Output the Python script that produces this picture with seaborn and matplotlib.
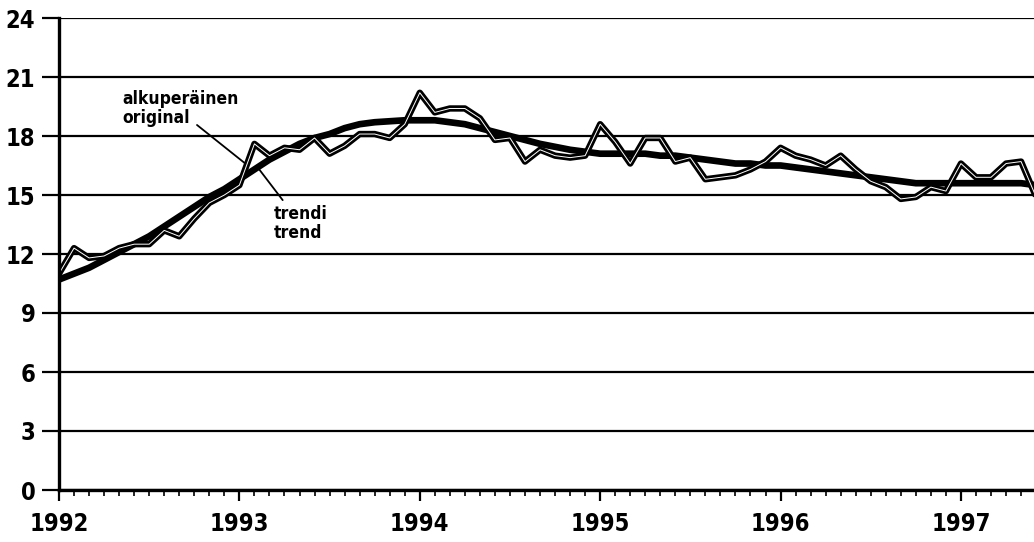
import numpy as np
import pandas as pd
import matplotlib as mpl
import matplotlib.pyplot as plt
import matplotlib.ticker as tck
import seaborn as sns

# kuukausiarvot 1992/01 - 1997/06
alkuperainen = [
    11.0, 12.3, 11.8, 11.9, 12.3, 12.5, 12.5, 13.2, 12.9, 13.8, 14.6, 15.0,  # 1992
    15.5, 17.6, 17.0, 17.4, 17.3, 17.9, 17.1, 17.5, 18.1, 18.1, 17.9, 18.6,  # 1993
    20.2, 19.2, 19.4, 19.4, 18.9, 17.8, 17.9, 16.7, 17.3, 17.0, 16.9, 17.0,  # 1994
    18.6, 17.7, 16.6, 17.9, 17.9, 16.7, 16.9, 15.8, 15.9, 16.0, 16.3, 16.7,  # 1995
    17.4, 17.0, 16.8, 16.5, 17.0, 16.3, 15.7, 15.4, 14.8, 14.9, 15.4, 15.2,  # 1996
    16.6, 15.9, 15.9, 16.6, 16.7, 14.9,                                      # 1997
]
trendi = [
    10.7, 11.0, 11.3, 11.7, 12.1, 12.5, 12.9, 13.4, 13.9, 14.4, 14.9, 15.3,
    15.8, 16.3, 16.8, 17.2, 17.6, 17.9, 18.1, 18.4, 18.6, 18.7, 18.75, 18.8,
    18.8, 18.8, 18.7, 18.6, 18.4, 18.2, 18.0, 17.8, 17.6, 17.45, 17.3, 17.2,
    17.1, 17.1, 17.1, 17.1, 17.0, 17.0, 16.9, 16.8, 16.7, 16.6, 16.6, 16.5,
    16.5, 16.4, 16.3, 16.2, 16.1, 16.0, 15.9, 15.8, 15.7, 15.6, 15.6, 15.6,
    15.6, 15.6, 15.6, 15.6, 15.6, 15.5,
]
vuodet = [1992, 1993, 1994, 1995, 1996, 1997]
y_ticks = [0, 3, 6, 9, 12, 15, 18, 21, 24]

aika = 1992 + np.arange(len(alkuperainen)) / 12
df = pd.DataFrame({'aika': aika, 'alkuperainen': alkuperainen, 'trendi': trendi})

sns.set_style('white')
plt.rcParams['font.family'] = ['DejaVu Sans']
plt.rcParams['font.stretch'] = 'condensed'
plt.rcParams['text.color'] = 'black'
plt.rcParams['xtick.color'] = 'black'
plt.rcParams['ytick.color'] = 'black'

fig = plt.figure(figsize=(10.34, 5.42), dpi=100)
ax = fig.add_axes([59 / 1034, 52 / 542, 1 - 59 / 1034, 472 / 542])

sns.lineplot(data=df, x='aika', y='trendi', ax=ax, color='black', lw=4.8,
             zorder=3)
sns.lineplot(data=df, x='aika', y='alkuperainen', ax=ax, color='black', lw=4.6,
             zorder=4)
sns.lineplot(data=df, x='aika', y='alkuperainen', ax=ax, color='white', lw=0.7,
             zorder=5)

ax.set_xlim(1992, 1997.405)
ax.set_ylim(0, 24)
ax.set_xlabel('')
ax.set_ylabel('')

fnt = dict(fontsize=17, fontweight='bold', fontstretch='condensed')
ax.set_yticks(y_ticks)
ax.set_yticklabels([str(v) for v in y_ticks], **fnt)
ax.set_xticks(vuodet)
ax.set_xticklabels([str(v) for v in vuodet], **fnt)
ax.xaxis.set_minor_locator(tck.MultipleLocator(1 / 12))

ax.grid(axis='y', color='black', lw=1.6)
ax.set_axisbelow(True)
ax.tick_params(axis='y', length=12, width=1.6, pad=5, left=True)
ax.tick_params(axis='x', which='major', length=8, width=1.6, pad=8,
               direction='out', bottom=True)
ax.tick_params(axis='x', which='minor', length=4, width=1.2, direction='out',
               bottom=True)

for s in ('top', 'right'):
    ax.spines[s].set_visible(False)
for s in ('left', 'bottom'):
    ax.spines[s].set_color('black')
    ax.spines[s].set_linewidth(2.4)
    ax.spines[s].set_zorder(6)

# selitteet
lbl = dict(fontsize=12.5, fontweight='bold', fontstretch='condensed',
           ha='left', va='center', linespacing=1.05)
ax.text(1992.35, 19.4, 'alkuperäinen\noriginal', **lbl)
ax.text(1993.19, 13.55, 'trendi\ntrend', **lbl)
viiva = dict(arrowstyle='-', color='black', lw=1.3, shrinkA=0, shrinkB=0)
ax.annotate('', xy=(1993.03, 16.62), xytext=(1992.765, 18.56), arrowprops=viiva)
ax.annotate('', xy=(1993.10, 16.42), xytext=(1993.24, 14.74), arrowprops=viiva)

fig.savefig('out.png', dpi=100)
